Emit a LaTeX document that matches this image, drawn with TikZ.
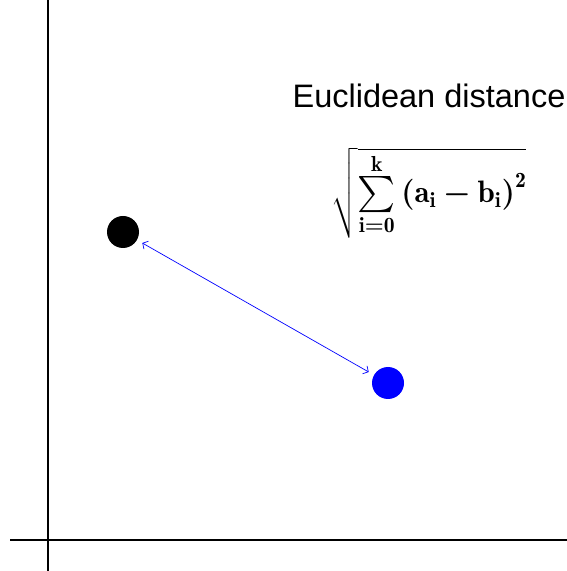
\RequirePackage{fix-cm}
\documentclass[tikz,border=0pt]{standalone}
\usepackage{amsmath}
\usepackage{fontspec}
\setsansfont{Liberation Sans}
\usetikzlibrary{arrows.meta}
\newcommand{\bigsum}{\mathop{\vcenter{\hbox{\scalebox{1.45}{$\sum$}}}}\limits}
\newcommand{\distformula}{%
  $\sqrt{\bigsum_{\mathbf{i}\boldsymbol{=}\mathbf{0}}^{\mathbf{k}}
  \boldsymbol{(}\mathbf{a}_{\mathbf{i}}\boldsymbol{-}\mathbf{b}_{\mathbf{i}}\boldsymbol{)}^{\mathbf{2}}}$}
\tikzset{
  axisline/.style={line width=1.2pt},
  dot/.style={circle, inner sep=0pt, minimum size=32pt},
}

\begin{document}
\begin{tikzpicture}[x=1pt, y=1pt]
  \useasboundingbox (0,0) rectangle (567,571);
  % axes
  \coordinate (ytop) at (48,571);
  \coordinate (ybot) at (48,0);
  \coordinate (xl) at (10,31);
  \coordinate (xr) at (567,31);
  \draw[axisline] (ybot) -- (ytop);
  \draw[axisline] (xl) -- (xr);
  % the two points
  \node[dot, fill=black] (pa) at (123,339) {};
  \node[dot, fill=blue] (pb) at (388,188) {};
  \draw[blue, line width=0.7pt, {Straight Barb[length=4pt,width=9pt]}-{Straight Barb[length=4pt,width=9pt]},
    shorten <=6pt, shorten >=6pt] (pa) -- (pb);
  % label and formula
  \node[font=\sffamily\fontsize{32.5}{36}\selectfont] (title) at (429,475) {Euclidean distance};
  \node[font=\fontsize{31}{38}\selectfont] (formula) at (429,378) {\distformula};
\end{tikzpicture}
\end{document}
